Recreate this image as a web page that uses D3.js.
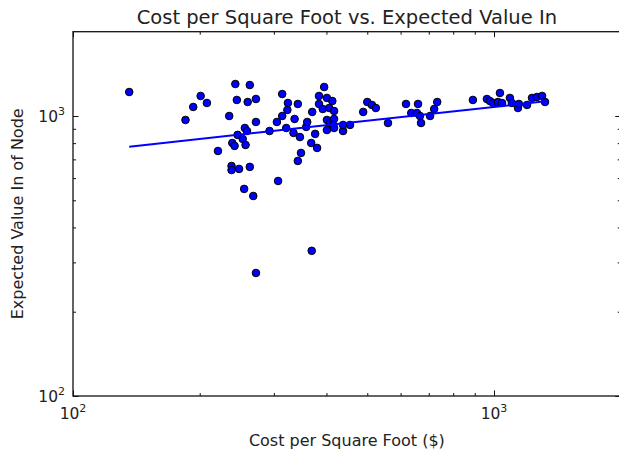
<!DOCTYPE html>
<html>
<head>
<meta charset="utf-8">
<script src="https://cdn.jsdelivr.net/npm/d3@7/dist/d3.min.js"></script>
<style>
  body { margin: 0; background: #fff; }
  text { font-family: "DejaVu Sans", sans-serif; fill: #222; }
</style>
</head>
<body>
<svg id="chart" width="619" height="457"></svg>
<script>
// Cost per square foot ($) of each node
const costPerSqFt = [
  136, 185, 193, 201, 208, 221, 235, 243, 263, 245,
  260, 272, 272, 256, 259, 246, 253, 239, 242, 257,
  238, 238, 248, 263, 255, 268, 307, 272, 369, 293,
  314, 324, 342, 323, 314, 336, 305, 321, 334, 346,
  358, 376, 368, 380, 348, 342, 395, 370, 360, 384,
  401, 413, 384, 392, 406, 417, 401, 408, 417, 415,
  401, 417, 438, 455, 438, 489, 500, 513, 524, 560,
  618, 660, 636, 656, 667, 671, 705, 733, 721, 891,
  962, 978, 995, 1033, 1022, 1045, 1091, 1103, 1140, 1146,
  1198, 1231, 1265, 1301, 1322
];
// Expected value in of each node
const expectedValue = [
  1218, 968, 1077, 1179, 1113, 750, 1000, 1301, 1290, 1141,
  1122, 1150, 952, 906, 884, 856, 828, 801, 782, 788,
  663, 641, 647, 658, 549, 518, 586, 275, 330, 884,
  1198, 1113, 1104, 1051, 1000, 976, 952, 906, 870, 841,
  914, 863, 801, 769, 738, 691, 1269, 1034, 952, 1179,
  1160, 1131, 1104, 1059, 1068, 1042, 968, 944, 976, 929,
  891, 906, 884, 929, 929, 1034, 1122, 1095, 1068, 944,
  1104, 1104, 1025, 1025, 1000, 944, 1000, 1122, 1059, 1141,
  1150, 1131, 1113, 1208, 1122, 1113, 1160, 1113, 1068, 1104,
  1095, 1160, 1169, 1179, 1122
];
// Power-law trend line over the data range
const trendCost = [136, 1322];
const trendValue = [777, 1128];

const xDomain = [100, 2000];
const yDomain = [100, 2000];
const majorTicks = [100, 1000];
const minorTicks = [200, 300, 400, 500, 600, 700, 800, 900];

const titleText = "Cost per Square Foot vs. Expected Value In";
const xLabelText = "Cost per Square Foot ($)";
const yLabelText = "Expected Value In of Node";

const svg = d3.select("#chart");
const plotLeft = 73, plotTop = 31.7, plotBottom = 396;
const decadeX = 421;
const plotRight = plotLeft + decadeX * Math.log10(xDomain[1] / xDomain[0]);

const x = d3.scaleLog().domain(xDomain).range([plotLeft, plotRight]);
const y = d3.scaleLog().domain(yDomain).range([plotBottom, plotTop]);

const points = costPerSqFt.map((c, i) => ({ c, v: expectedValue[i] }));

// Plot frame
svg.append("rect")
  .attr("x", plotLeft).attr("y", plotTop)
  .attr("width", plotRight - plotLeft).attr("height", plotBottom - plotTop)
  .attr("fill", "none").attr("stroke", "#111").attr("stroke-width", 1.3);

// Inward ticks on all four sides
function ticks(axisGen, transform, values, size) {
  svg.append("g").attr("transform", transform)
    .call(axisGen.tickValues(values).tickSize(size).tickFormat(""))
    .call(g => g.select(".domain").remove())
    .call(g => g.selectAll("line").attr("stroke", "#111").attr("stroke-width", 1));
}
ticks(d3.axisTop(x), `translate(0,${plotBottom})`, majorTicks, 5.5);
ticks(d3.axisTop(x), `translate(0,${plotBottom})`, minorTicks, 3);
ticks(d3.axisBottom(x), `translate(0,${plotTop})`, majorTicks, 5.5);
ticks(d3.axisBottom(x), `translate(0,${plotTop})`, minorTicks, 3);
ticks(d3.axisRight(y), `translate(${plotLeft},0)`, majorTicks, 5.5);
ticks(d3.axisRight(y), `translate(${plotLeft},0)`, minorTicks, 3);
ticks(d3.axisLeft(y), `translate(${plotRight},0)`, majorTicks, 5.5);
ticks(d3.axisLeft(y), `translate(${plotRight},0)`, minorTicks, 3);

// Power-of-ten tick labels
function powLabel(sel, v) {
  const e = Math.round(Math.log10(v));
  sel.append("tspan").text("10");
  sel.append("tspan").attr("dy", -7).attr("font-size", 11).text(e);
}
majorTicks.forEach(v => {
  const t = svg.append("text")
    .attr("x", x(v)).attr("y", plotBottom + 23)
    .attr("text-anchor", "middle").attr("font-size", 15.5);
  powLabel(t, v);
});
majorTicks.forEach(v => {
  const t = svg.append("text")
    .attr("x", plotLeft - 8).attr("y", y(v) + 6)
    .attr("text-anchor", "end").attr("font-size", 15.5);
  powLabel(t, v);
});

// Scatter points
svg.append("g").selectAll("circle").data(points).join("circle")
  .attr("cx", d => x(d.c)).attr("cy", d => y(d.v))
  .attr("r", 3.8)
  .attr("fill", "#0000ff").attr("stroke", "#000").attr("stroke-width", 1);

// Trend line
const line = d3.line().x(d => x(d[0])).y(d => y(d[1]));
svg.append("path")
  .datum(trendCost.map((c, i) => [c, trendValue[i]]))
  .attr("d", line)
  .attr("fill", "none").attr("stroke", "#0000ff").attr("stroke-width", 2);

// Title and axis labels
svg.append("text").attr("x", (plotLeft + plotRight) / 2).attr("y", 24)
  .attr("text-anchor", "middle").attr("font-size", 19.5).text(titleText);
svg.append("text").attr("x", (plotLeft + plotRight) / 2).attr("y", 446)
  .attr("text-anchor", "middle").attr("font-size", 16).text(xLabelText);
svg.append("text")
  .attr("transform", `translate(23,${(plotTop + plotBottom) / 2}) rotate(-90)`)
  .attr("text-anchor", "middle").attr("font-size", 16).text(yLabelText);
</script>
</body>
</html>
